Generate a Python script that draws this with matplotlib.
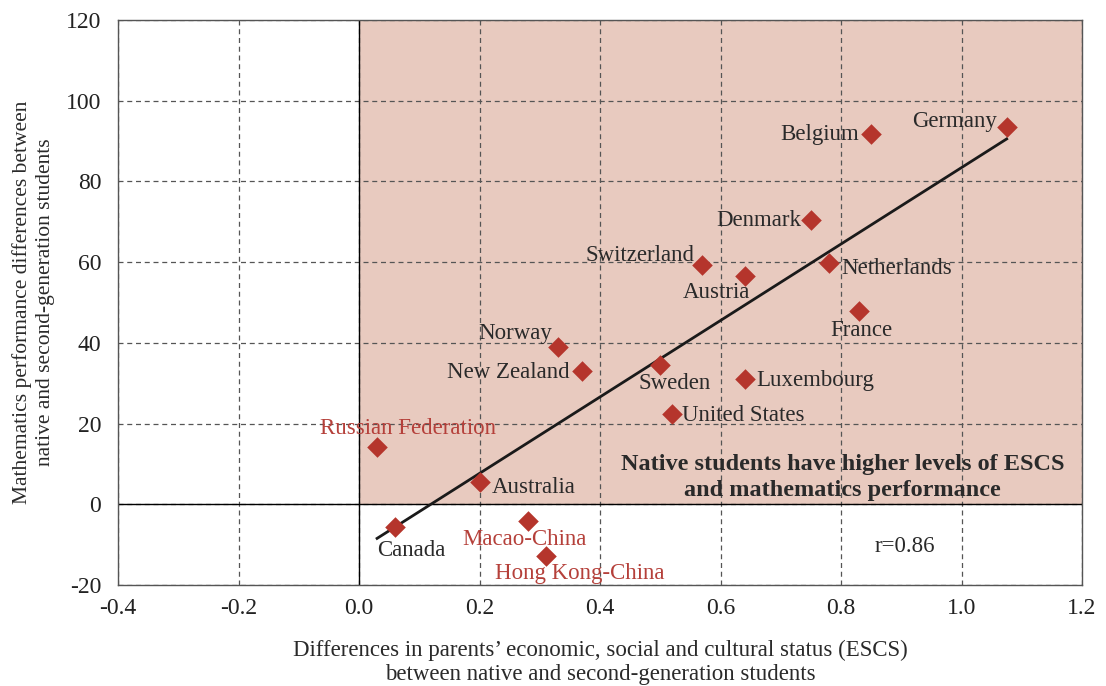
import matplotlib
matplotlib.use("Agg")
import matplotlib.pyplot as plt
import numpy as np

# values
countries = ["Germany", "Belgium", "Denmark", "Switzerland", "Austria", "Netherlands",
             "France", "Norway", "New Zealand", "Sweden", "Luxembourg", "United States",
             "Russian Federation", "Australia", "Canada", "Macao-China", "Hong Kong-China"]
escs_diff = [1.075, 0.85, 0.75, 0.57, 0.64, 0.78, 0.83, 0.33, 0.37, 0.50, 0.64, 0.52,
             0.03, 0.20, 0.06, 0.28, 0.31]
math_diff = [93.4, 91.7, 70.4, 59.2, 56.5, 59.7, 47.8, 39.1, 33.0, 34.4, 31.0, 22.5,
             14.1, 5.5, -5.7, -4.2, -12.9]
partners = ["Russian Federation", "Macao-China", "Hong Kong-China"]

x_ticks = [-0.4, -0.2, 0.0, 0.2, 0.4, 0.6, 0.8, 1.0, 1.2]
y_ticks = [-20, 0, 20, 40, 60, 80, 100, 120]

# label placement (offset in pixels, alignment)
label_pos = {
    "Germany": (-10, 6, "right"),
    "Belgium": (-12, 0, "right"),
    "Denmark": (-10, 0, "right"),
    "Switzerland": (-8, 10, "right"),
    "Austria": (-28, -16, "center"),
    "Netherlands": (12, -5, "left"),
    "France": (2, -19, "center"),
    "Norway": (-6, 13, "right"),
    "New Zealand": (-12, -1, "right"),
    "Sweden": (14, -18, "center"),
    "Luxembourg": (12, -1, "left"),
    "United States": (10, -2, "left"),
    "Russian Federation": (31, 19, "center"),
    "Australia": (12, -5, "left"),
    "Canada": (16, -23, "center"),
    "Macao-China": (-3, -18, "center"),
    "Hong Kong-China": (34, -17, "center"),
}

plt.rcParams['font.family'] = ['Liberation Serif', 'DejaVu Serif']
plt.rcParams['axes.unicode_minus'] = False

fig = plt.figure(figsize=(11.06, 6.86), dpi=100)
ax = fig.add_axes([0.1067, 0.1472, 0.8716, 0.8236])

ax.set_xlim(-0.4, 1.2)
ax.set_ylim(-20, 120)

# shaded quadrant
ax.axvspan(0, 1.2, ymin=20 / 140, ymax=1, color="#e8cabf", zorder=0, lw=0)

ax.set_xticks(x_ticks)
ax.set_xticklabels(["{:.1f}".format(v) for v in x_ticks])
ax.set_yticks(y_ticks)
ax.grid(True, linestyle=(0, (4, 3)), color="#555555", lw=0.9, zorder=1)
ax.axhline(0, color="black", lw=1.0, zorder=2)
ax.axvline(0, color="black", lw=1.0, zorder=2)
ax.tick_params(length=0, labelsize=17, colors="#222222")
ax.tick_params(axis="x", pad=9)
ax.tick_params(axis="y", pad=12)
for s in ax.spines.values():
    s.set_color("#555555")
    s.set_linewidth(1.0)

# trend line
x = np.array(escs_diff)
y = np.array(math_diff)
slope, intercept = np.polyfit(x, y, 1)
xs = np.array([x.min(), x.max()])
ax.plot(xs, slope * xs + intercept, color="#1a1a1a", lw=2, zorder=3)

ax.scatter(x, y, marker="D", s=110, color="#b5352c", zorder=4, lw=0)

for c, xv, yv in zip(countries, escs_diff, math_diff):
    dx, dy, ha = label_pos[c]
    col = "#b5403a" if c in partners else "#2a2a2a"
    ax.annotate(c, (xv, yv), xytext=(dx, dy), textcoords="offset pixels",
                ha=ha, va="center", fontsize=16.5, color=col, zorder=5)

ax.text(0.803, 6.6, "Native students have higher levels of ESCS\nand mathematics performance",
        ha="center", va="center", fontsize=17.5, fontweight="bold", color="#2a2a2a",
        linespacing=1.3, zorder=5)
ax.text(0.906, -10.4, "r=0.86", ha="center", va="center", fontsize=16.5, color="#2a2a2a")

ax.set_xlabel("Differences in parents\u2019 economic, social and cultural status (ESCS)\n"
              "between native and second-generation students",
              fontsize=16.5, color="#2a2a2a", labelpad=15, linespacing=1.2)
ax.set_ylabel("Mathematics performance differences between\n"
              "native and second-generation students",
              fontsize=15.5, color="#2a2a2a", labelpad=8, linespacing=1.25)

fig.savefig("out.png", dpi=100)
